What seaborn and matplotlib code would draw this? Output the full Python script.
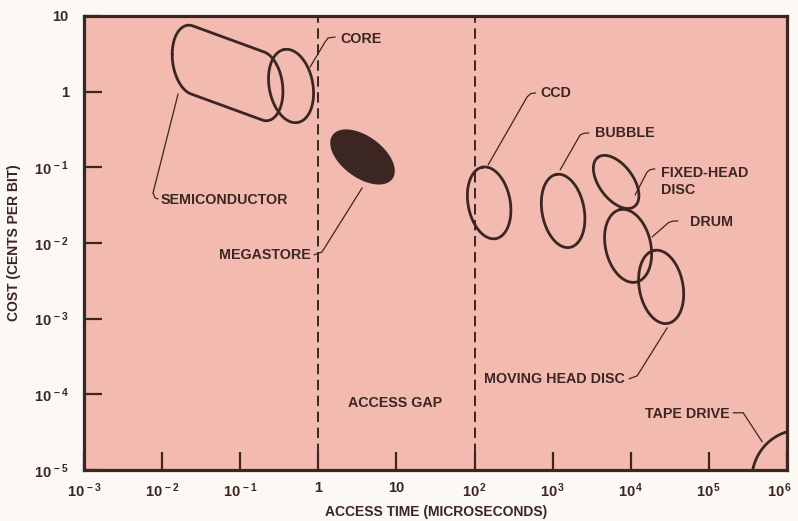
import numpy as np
import pandas as pd
import matplotlib
matplotlib.use("Agg")
import matplotlib.pyplot as plt
import matplotlib.transforms as mtransforms
import seaborn as sns

# ---------------- data (log10 units) ----------------
# semiconductor region: hull of two lobes
semi_lobe_access = [-1.617, -0.708]
semi_lobe_cost = [0.419, 0.075]
semi_lobe_major = 0.462
semi_lobe_minor = 0.25
semi_lobe_tilt = 97

tech = ["CORE", "MEGASTORE", "CCD", "BUBBLE", "FIXED-HEAD DISC", "DRUM",
        "MOVING HEAD DISC", "TAPE DRIVE"]
access_log = [-0.35, 0.565, 2.186, 3.133, 3.812, 3.965, 4.388, 6.168]
cost_log = [0.075, -0.863, -1.47, -1.576, -1.193, -2.038, -2.58, -5.13]
spread_major = [0.49, 0.48, 0.48, 0.49, 0.40, 0.49, 0.49, 0.66]
spread_minor = [0.28, 0.27, 0.27, 0.27, 0.22, 0.29, 0.28, 0.62]
tilt_deg = [100, -38, 100, 100, 125, 102, 100, 90]
filled = [False, True, False, False, False, False, False, False]

gap_bounds = [1, 100]  # microseconds

x_ticks = [1e-3, 1e-2, 1e-1, 1, 10, 1e2, 1e3, 1e4, 1e5, 1e6]
x_ticklabels = [r"$10^{\,-3}$", r"$10^{\,-2}$", r"$10^{\,-1}$", "1", "10",
                r"$10^{\,2}$", r"$10^{\,3}$", r"$10^{\,4}$", r"$10^{\,5}$",
                r"$10^{\,6}$"]
y_ticks = [1e-5, 1e-4, 1e-3, 1e-2, 1e-1, 1, 10]
y_ticklabels = [r"$10^{\,-5}$", r"$10^{\,-4}$", r"$10^{\,-3}$",
                r"$10^{\,-2}$", r"$10^{\,-1}$", "1", "10"]

# ---------------- annotation layout (log10 coords) ----------------
labels = [
    ("CORE", (0.278, 0.696), "left",
     [(-0.106, 0.326), (0.086, 0.657), (0.124, 0.709), (0.214, 0.723)]),
    ("SEMICONDUCTOR", (-2.014, -1.431), "left",
     [(-1.796, -0.030), (-2.117, -1.338), (-2.091, -1.404), (-2.053, -1.417)]),
    ("MEGASTORE", (-0.093, -2.157), "right",
     [(-0.055, -2.157), (0.047, -2.118), (0.560, -1.272)]),
    ("CCD", (2.839, -0.017), "left",
     [(2.173, -0.968), (2.672, -0.070), (2.72, -0.025), (2.782, -0.017)]),
    ("BUBBLE", (3.543, -0.546), "left",
     [(3.095, -1.034), (3.351, -0.572), (3.40, -0.55), (3.463, -0.546)]),
    ("FIXED-HEAD\nDISC", (4.388, -1.19), "left",
     [(4.055, -1.365), (4.209, -1.061), (4.25, -1.03), (4.308, -1.021)]),
    ("DRUM", (4.759, -1.721), "left",
     [(4.273, -1.919), (4.478, -1.734), (4.53, -1.712), (4.603, -1.708)]),
    ("MOVING HEAD DISC", (3.927, -3.795), "right",
     [(3.978, -3.795), (4.081, -3.756), (4.465, -3.121)]),
    ("TAPE DRIVE", (5.259, -4.258), "right",
     [(5.310, -4.244), (5.438, -4.244), (5.681, -4.627)]),
]
gap_text = ("ACCESS GAP", (0.380, -4.112))

# ---------------- style ----------------
INK = "#3b2622"
FACE = "#f3bab0"
sns.set_theme(style="ticks")
plt.rcParams["font.family"] = ["Liberation Sans", "DejaVu Sans"]
plt.rcParams["font.weight"] = "bold"
plt.rcParams["mathtext.fontset"] = "custom"
plt.rcParams["mathtext.rm"] = "Liberation Sans:bold"
plt.rcParams["mathtext.it"] = "Liberation Sans:bold"
plt.rcParams["mathtext.bf"] = "Liberation Sans:bold"
plt.rcParams["lines.scale_dashes"] = False
plt.rcParams["text.color"] = INK

fig = plt.figure(figsize=(7.98, 5.21), dpi=100)
fig.patch.set_facecolor("#fcf8f3")
ax = fig.add_axes([0.1053, 0.0979, 0.8810, 0.8714])
ax.set_facecolor(FACE)
ax.set_xscale("log")
ax.set_yscale("log")
ax.set_xlim(1e-3, 1e6)
ax.set_ylim(1e-5, 10)


def ellipse_pts(cx, cy, a, b, ang, n=240):
    t = np.linspace(0, 2 * np.pi, n)
    th = np.deg2rad(ang)
    x = cx + a * np.cos(t) * np.cos(th) - b * np.sin(t) * np.sin(th)
    y = cy + a * np.cos(t) * np.sin(th) + b * np.sin(t) * np.cos(th)
    return x, y


def hull(px, py):
    pts = sorted(set(zip(np.round(px, 6), np.round(py, 6))))

    def cross(o, a, b):
        return (a[0] - o[0]) * (b[1] - o[1]) - (a[1] - o[1]) * (b[0] - o[0])
    lower, upper = [], []
    for p in pts:
        while len(lower) >= 2 and cross(lower[-2], lower[-1], p) <= 0:
            lower.pop()
        lower.append(p)
    for p in reversed(pts):
        while len(upper) >= 2 and cross(upper[-2], upper[-1], p) <= 0:
            upper.pop()
        upper.append(p)
    h = lower[:-1] + upper[:-1]
    h.append(h[0])
    h = np.array(h)
    return h[:, 0], h[:, 1]


LW = 2.0
# semiconductor
xs, ys = [], []
for cx, cy in zip(semi_lobe_access, semi_lobe_cost):
    ex, ey = ellipse_pts(cx, cy, semi_lobe_major, semi_lobe_minor,
                         semi_lobe_tilt)
    xs.append(ex)
    ys.append(ey)
hx, hy = hull(np.concatenate(xs), np.concatenate(ys))
sns.lineplot(x=10 ** hx, y=10 ** hy, sort=False, estimator=None, color=INK,
             lw=LW, ax=ax)

for cx, cy, a, b, ang, f in zip(access_log, cost_log, spread_major,
                                spread_minor, tilt_deg, filled):
    ex, ey = ellipse_pts(cx, cy, a, b, ang)
    if f:
        ax.fill(10 ** ex, 10 ** ey, color=INK, lw=0)
    else:
        sns.lineplot(x=10 ** ex, y=10 ** ey, sort=False, estimator=None,
                     color=INK, lw=LW, ax=ax)

for g in gap_bounds:
    ax.axvline(g, color=INK, lw=1.4, dashes=(7.5, 4.0))

for txt, (tx, ty), ha, pts in labels:
    p = np.array(pts)
    ax.plot(10 ** p[:, 0], 10 ** p[:, 1], color=INK, lw=0.9,
            solid_capstyle="round", solid_joinstyle="round")
    ax.text(10 ** tx, 10 ** ty, txt, ha=ha, va="center", fontsize=10.3,
            fontweight="bold", color=INK, linespacing=1.25)

ax.text(10 ** gap_text[1][0], 10 ** gap_text[1][1], gap_text[0], ha="left",
        va="center", fontsize=10.3, fontweight="bold", color=INK)

# axes styling
for s in ax.spines.values():
    s.set_color(INK)
    s.set_linewidth(2.3)
ax.set_xticks(x_ticks)
ax.set_xticklabels(x_ticklabels)
ax.set_yticks(y_ticks)
ax.set_yticklabels(y_ticklabels)
ax.minorticks_off()
ax.tick_params(axis="both", direction="in", length=13, width=1.6,
               color=INK, labelcolor=INK, labelsize=10.5)
ax.tick_params(axis="x", pad=8)
ax.tick_params(axis="y", pad=11)

# keep the last x label inside the figure edge
last = ax.get_xticklabels()[-1]
last.set_transform(last.get_transform() +
                   mtransforms.ScaledTranslation(-7 / 100, 0,
                                                 fig.dpi_scale_trans))

fig.text(0.546, 0.017, "ACCESS TIME (MICROSECONDS)", ha="center",
         va="center", fontsize=10, fontweight="bold", color=INK)
fig.text(0.0175, 0.534, "COST (CENTS PER BIT)", ha="center", va="center",
         rotation=90, fontsize=10, fontweight="bold", color=INK)

fig.savefig("out.png", dpi=100, facecolor=fig.get_facecolor())
